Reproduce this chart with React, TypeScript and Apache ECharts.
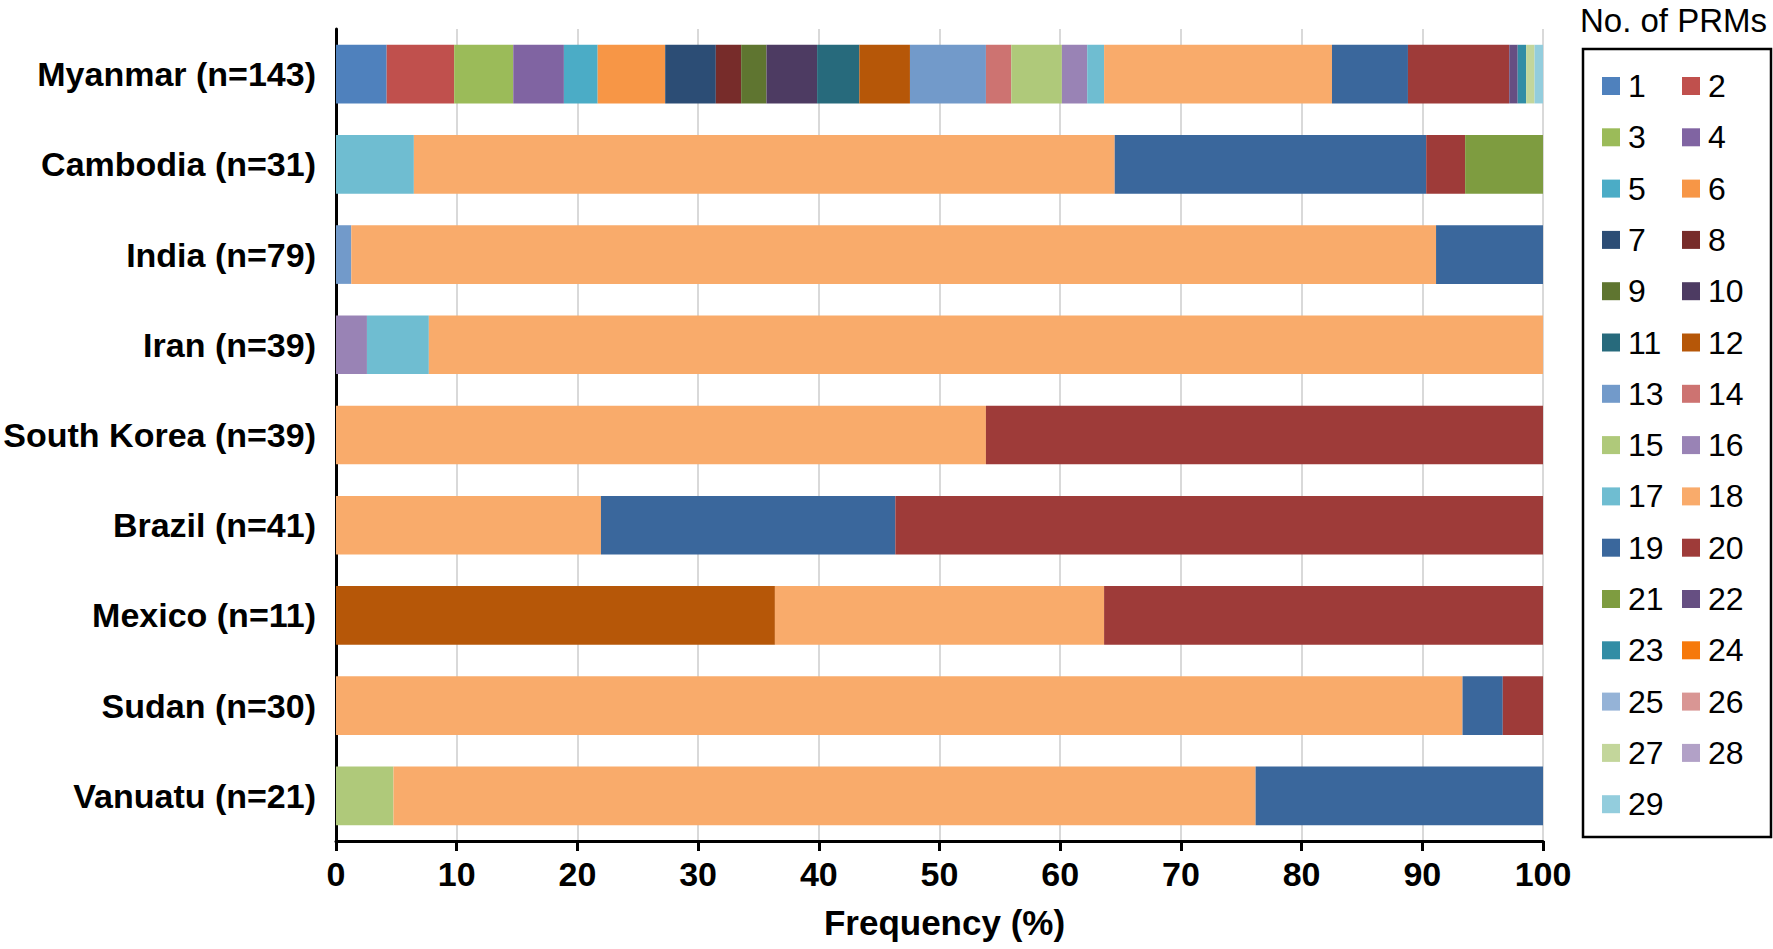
import React, { useEffect, useRef } from "react";
import * as echarts from "echarts";

const categories = [
  "Myanmar (n=143)",
  "Cambodia (n=31)",
  "India (n=79)",
  "Iran (n=39)",
  "South Korea (n=39)",
  "Brazil (n=41)",
  "Mexico (n=11)",
  "Sudan (n=30)",
  "Vanuatu (n=21)",
];
const sampleSizes = [143, 31, 79, 39, 39, 41, 11, 30, 21];

// [number of PRMs, count of isolates]
const myanmarCounts = [
  [1, 6], [2, 8], [3, 7], [4, 6], [5, 4], [6, 8], [7, 6], [8, 3], [9, 3], [10, 6],
  [11, 5], [12, 6], [13, 9], [14, 3], [15, 6], [16, 3], [17, 2], [18, 27], [19, 9],
  [20, 12], [22, 1], [23, 1], [27, 1], [29, 1],
];
const cambodiaCounts = [[17, 2], [18, 18], [19, 8], [20, 1], [21, 2]];
const indiaCounts = [[13, 1], [18, 71], [19, 7]];
const iranCounts = [[16, 1], [17, 2], [18, 36]];
const southKoreaCounts = [[18, 21], [20, 18]];
const brazilCounts = [[18, 9], [19, 10], [20, 22]];
const mexicoCounts = [[12, 4], [18, 3], [20, 4]];
const sudanCounts = [[18, 28], [19, 1], [20, 1]];
const vanuatuCounts = [[15, 1], [18, 15], [19, 5]];

const countryCounts = [
  myanmarCounts, cambodiaCounts, indiaCounts, iranCounts, southKoreaCounts,
  brazilCounts, mexicoCounts, sudanCounts, vanuatuCounts,
];

const prmNames = Array.from({ length: 29 }, (_, i) => String(i + 1));
const prmColors = [
  "#4f81bd", "#c0504d", "#9bbb59", "#8064a2", "#4bacc6", "#f79646", "#2c4d75",
  "#772c2a", "#5f7530", "#4d3b62", "#276a7c", "#b65708", "#729aca", "#cd7371",
  "#afc97a", "#9983b5", "#6fbdd1", "#f9ab6b", "#3a679c", "#9e3b39", "#7e9c40",
  "#664f82", "#328da5", "#f6790b", "#95b3d7", "#d99694", "#c3d69b", "#b2a1c7",
  "#93cddd",
];
const xTicks = [0, 10, 20, 30, 40, 50, 60, 70, 80, 90, 100];

const FONT = "'Liberation Sans', Arial, Helvetica, sans-serif";

export default function App() {
  const ref = useRef<HTMLDivElement>(null);
  useEffect(() => {
    document.body.style.margin = "0";
    if (!ref.current) return;
    const chart = echarts.init(ref.current, undefined, { renderer: "svg" });

    const series = prmNames.map((name, pi) => ({
      name,
      type: "bar",
      stack: "total",
      barCategoryGap: "35%",
      itemStyle: { color: prmColors[pi] },
      emphasis: { disabled: true },
      data: countryCounts.map((list, ci) => {
        const found = list.find((d) => d[0] === pi + 1);
        return found ? (found[1] / sampleSizes[ci]) * 100 : 0;
      }),
    }));

    const legendText = {
      fontFamily: FONT,
      fontSize: 32,
      lineHeight: 31,
      color: "#000",
      padding: [0, 0, 0, 3],
    };

    chart.setOption({
      animation: false,
      textStyle: { fontFamily: FONT },
      title: {
        text: "No. of PRMs",
        left: 1580,
        top: 4,
        padding: 0,
        textStyle: { fontFamily: FONT, fontSize: 33, fontWeight: "normal", color: "#000" },
      },
      legend: [
        {
          data: prmNames.filter((_, i) => i % 2 === 0),
          orient: "vertical",
          left: 1602,
          top: 70,
          padding: 0,
          itemWidth: 18,
          itemHeight: 18,
          itemGap: 19.3,
          icon: "rect",
          selectedMode: false,
          textStyle: legendText,
        },
        {
          data: prmNames.filter((_, i) => i % 2 === 1),
          orient: "vertical",
          left: 1682,
          top: 70,
          padding: 0,
          itemWidth: 18,
          itemHeight: 18,
          itemGap: 19.3,
          icon: "rect",
          selectedMode: false,
          textStyle: legendText,
        },
      ],
      graphic: [
        {
          type: "rect",
          shape: { x: 1583, y: 49, width: 188, height: 788 },
          style: { fill: "none", stroke: "#000", lineWidth: 2.5 },
          silent: true,
        },
      ],
      grid: { left: 336, top: 29, width: 1207, height: 812, containLabel: false },
      xAxis: {
        type: "value",
        min: 0,
        max: 100,
        interval: 10,
        name: "Frequency (%)",
        nameLocation: "middle",
        nameGap: 64,
        nameTextStyle: { fontFamily: FONT, fontSize: 35, fontWeight: "bold", color: "#000", padding: [0, 0, 0, 10] },
        axisLine: { show: true, lineStyle: { color: "#000", width: 3 } },
        axisTick: { show: true, length: 10, lineStyle: { color: "#000", width: 3 } },
        axisLabel: {
          fontFamily: FONT,
          fontSize: 34,
          fontWeight: "bold",
          color: "#000",
          margin: 16,
          formatter: (v: number) => (xTicks.includes(v) ? String(v) : ""),
        },
        splitLine: { show: true, lineStyle: { color: "#d9d9d9", width: 2 } },
      },
      yAxis: {
        type: "category",
        data: categories,
        inverse: true,
        axisLine: { show: true, lineStyle: { color: "#000", width: 3 } },
        axisTick: { show: false },
        axisLabel: {
          fontFamily: FONT,
          fontSize: 34,
          fontWeight: "bold",
          color: "#000",
          margin: 20,
        },
        splitLine: { show: false },
      },
      series,
    });
    return () => chart.dispose();
  }, []);
  return <div ref={ref} style={{ width: 1773, height: 949 }} />;
}
